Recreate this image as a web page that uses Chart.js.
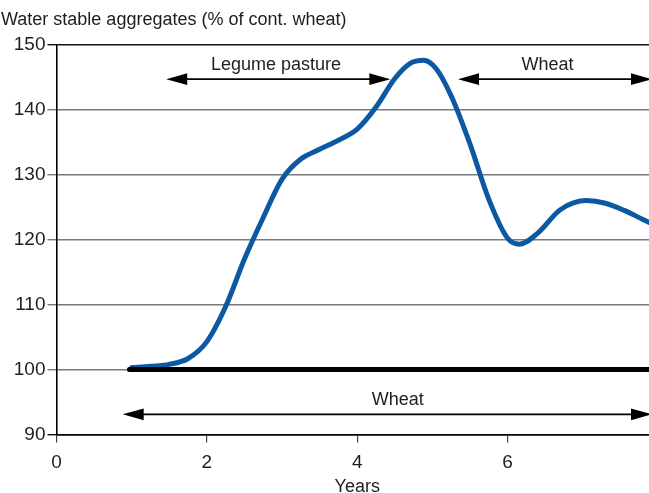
<!DOCTYPE html>
<html>
<head>
<meta charset="utf-8">
<script src="https://cdn.jsdelivr.net/npm/chart.js@4.4.1/dist/chart.umd.min.js"></script>
<style>
  html, body { margin: 0; padding: 0; overflow: hidden; background: #fff; width: 649px; height: 493px; }
  #wrap { position: relative; width: 680px; height: 498px; }
  canvas { display: block; }
</style>
</head>
<body>
<div id="wrap"><canvas id="c" width="680" height="498"></canvas></div>
<script>
// ---- data ----
const yTitle = 'Water stable aggregates (% of cont. wheat)';
const xTitle = 'Years';
const xTicks = [0, 2, 4, 6, 8];
const yTicks = [90, 100, 110, 120, 130, 140, 150];

// Legume pasture -> wheat rotation (blue curve)
const rotationYears = [1.0, 1.25, 1.5, 1.75, 2.0, 2.25, 2.5, 2.75, 3.0, 3.25, 3.5, 3.75, 4.0, 4.25, 4.5, 4.7, 4.88, 5.05, 5.25, 5.5, 5.75, 6.0, 6.16, 6.4, 6.7, 7.05, 7.3, 7.55, 7.8, 8.0];
const rotationValues = [100.3, 100.5, 100.8, 101.7, 104.3, 109.7, 117.0, 123.4, 129.3, 132.4, 133.9, 135.3, 137.0, 140.4, 144.8, 147.1, 147.6, 146.3, 142.1, 134.7, 126.2, 120.2, 119.3, 121.0, 124.6, 126.0, 125.6, 124.5, 123.1, 122.0];

// Continuous wheat (black baseline)
const wheatYears = [0.97, 8];
const wheatValues = [100, 100];

// Period arrows (data coordinates)
const arrowLabels = ['Legume pasture', 'Wheat', 'Wheat'];
const arrowStart = [1.46, 5.34, 0.88];
const arrowEnd = [4.44, 7.92, 7.92];
const arrowLevel = [144.7, 144.7, 93.1];
const labelCenter = [2.92, 6.53, 4.54];

const FONT = "'Liberation Sans', Arial, Helvetica, sans-serif";
const TEXT = '#1e1e1e';

const arrowPlugin = {
  id: 'arrows',
  afterDatasetsDraw(chart) {
    const { ctx, scales: { x, y } } = chart;
    ctx.save();
    ctx.strokeStyle = '#000';
    ctx.fillStyle = '#000';
    ctx.lineWidth = 1.8;
    const headL = 21, headW = 5.8;
    for (let i = 0; i < arrowLabels.length; i++) {
      const x0 = x.getPixelForValue(arrowStart[i]);
      const x1 = x.getPixelForValue(arrowEnd[i]);
      const py = y.getPixelForValue(arrowLevel[i]);
      ctx.beginPath();
      ctx.moveTo(x0 + headL - 1, py);
      ctx.lineTo(x1 - headL + 1, py);
      ctx.stroke();
      ctx.beginPath();
      ctx.moveTo(x0, py);
      ctx.lineTo(x0 + headL, py - headW);
      ctx.lineTo(x0 + headL, py + headW);
      ctx.closePath();
      ctx.fill();
      ctx.beginPath();
      ctx.moveTo(x1, py);
      ctx.lineTo(x1 - headL, py - headW);
      ctx.lineTo(x1 - headL, py + headW);
      ctx.closePath();
      ctx.fill();
      ctx.font = '18px ' + FONT;
      ctx.fillStyle = TEXT;
      ctx.textAlign = 'center';
      ctx.textBaseline = 'alphabetic';
      ctx.fillText(arrowLabels[i], x.getPixelForValue(labelCenter[i]), py - 9.4);
      ctx.fillStyle = '#000';
    }
    // chart heading (y-axis caption at top left)
    ctx.font = '18px ' + FONT;
    ctx.fillStyle = TEXT;
    ctx.textAlign = 'left';
    ctx.textBaseline = 'alphabetic';
    ctx.fillText(yTitle, 1, 25);
    ctx.restore();
  }
};

new Chart(document.getElementById('c'), {
  type: 'line',
  data: {
    datasets: [
      {
        label: 'Continuous wheat',
        data: wheatYears.map((v, i) => ({ x: v, y: wheatValues[i] })),
        borderColor: '#000',
        borderWidth: 5,
        borderCapStyle: 'round',
        pointRadius: 0,
        order: 0
      },
      {
        label: 'Legume pasture then wheat',
        data: rotationYears.map((v, i) => ({ x: v, y: rotationValues[i] })),
        borderColor: '#0d58a2',
        borderWidth: 5,
        borderCapStyle: 'round',
        borderJoinStyle: 'round',
        cubicInterpolationMode: 'monotone',
        pointRadius: 0,
        order: 1
      }
    ]
  },
  options: {
    responsive: false,
    animation: false,
    devicePixelRatio: 1,
    layout: { padding: { top: 44.7, right: 22, left: 0, bottom: 0 } },
    plugins: { legend: { display: false }, tooltip: { enabled: false }, title: { display: false } },
    scales: {
      x: {
        type: 'linear',
        min: 0, max: 8,
        afterBuildTicks(s) { s.ticks = xTicks.map(v => ({ value: v })); },
        afterFit(s) { s.height = 63.5; },
        border: { display: true, color: '#000', width: 1.6 },
        grid: { display: true, drawOnChartArea: false, drawTicks: true, tickLength: 8, color: '#444', lineWidth: 1.2 },
        ticks: { font: { family: FONT, size: 19 }, color: TEXT, padding: 9, maxRotation: 0 },
        title: { display: true, text: xTitle, font: { family: FONT, size: 18 }, color: TEXT, padding: { top: 0, bottom: 0 } }
      },
      y: {
        type: 'linear',
        min: 90, max: 150,
        afterBuildTicks(s) { s.ticks = yTicks.map(v => ({ value: v })); },
        afterFit(s) { s.width = 56.5; },
        border: { display: true, color: '#000', width: 1.6 },
        grid: {
          drawTicks: true, tickLength: 9,
          color: ctx => (ctx.tick && (ctx.tick.value === 150 || ctx.tick.value === 90)) ? '#111' : '#7a7a7a',
          lineWidth: 1.4
        },
        ticks: { font: { family: FONT, size: 19 }, color: TEXT, padding: 2 }
      }
    }
  },
  plugins: [arrowPlugin]
});
</script>
</body>
</html>
